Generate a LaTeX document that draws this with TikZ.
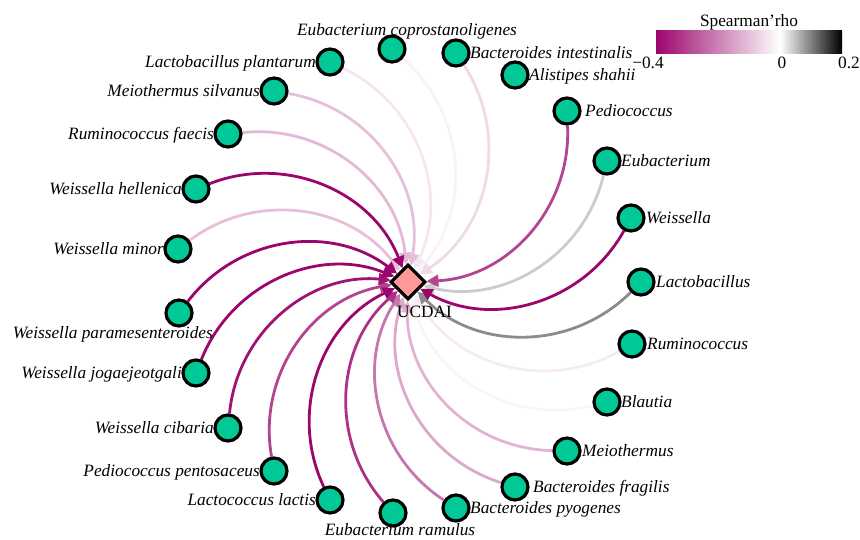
\documentclass[tikz,border=0pt]{standalone}
\usepackage{fontspec}
\setmainfont{Liberation Serif}
\usetikzlibrary{arrows.meta,shapes.geometric}
\definecolor{rhoneg}{RGB}{155,5,108}
\definecolor{nodegreen}{RGB}{0,201,151}
\definecolor{diafill}{RGB}{255,153,153}
\pgfdeclarehorizontalshading{rhobar}{100bp}{color(0bp)=(rhoneg); color(25bp)=(rhoneg); color(58.333bp)=(white); color(75bp)=(black); color(100bp)=(black)}
\pgfdeclarelayer{edgelayer}
\pgfsetlayers{edgelayer,main}
\begin{document}
\begin{tikzpicture}[x=1pt,y=-1pt,
  taxon/.style={circle,draw=black,line width=3.2pt,fill=nodegreen,minimum size=26pt,inner sep=0pt},
  hub/.style={diamond,draw=black,line width=3.2pt,fill=diafill,minimum width=35pt,minimum height=35pt,inner sep=0pt,shape aspect=1},
  lab/.style={font=\fontsize{17.3}{17.3}\selectfont\itshape,inner sep=0pt},
  lableft/.style={lab,anchor=base east},
  labright/.style={lab,anchor=base west},
  plainlab/.style={inner sep=0pt,font=\fontsize{17.3}{17.3}\selectfont},
  edgeline/.style={line width=2.8pt,-{Triangle[length=12pt,width=12pt]}},
]
\useasboundingbox (0,0) rectangle (860,539);

% hub
\node[hub] (u) at (408,282) {};
\node[plainlab,anchor=base west] (ulab) at (397,317) {UCDAI};

% taxa
\node[taxon] (n1) at (392,49) {};
\node[lab,anchor=base] (l1) at (407,35) {Eubacterium coprostanoligenes};
\node[taxon] (n2) at (330,62) {};
\node[lableft] (l2) at (316,67) {Lactobacillus plantarum};
\node[taxon] (n3) at (274,91) {};
\node[lableft] (l3) at (260,96) {Meiothermus silvanus};
\node[taxon] (n4) at (228,134) {};
\node[lableft] (l4) at (214,139) {Ruminococcus faecis};
\node[taxon] (n5) at (196,189) {};
\node[lableft] (l5) at (182,194) {Weissella hellenica};
\node[taxon] (n6) at (178,249) {};
\node[lableft] (l6) at (164,254) {Weissella minor};
\node[taxon] (n7) at (179,313) {};
\node[lableft] (l7) at (213,338) {Weissella paramesenteroides};
\node[taxon] (n8) at (196,373) {};
\node[lableft] (l8) at (182,378) {Weissella jogaejeotgali};
\node[taxon] (n9) at (228,428) {};
\node[lableft] (l9) at (214,433) {Weissella cibaria};
\node[taxon] (n10) at (274,471) {};
\node[lableft] (l10) at (260,476) {Pediococcus pentosaceus};
\node[taxon] (n11) at (330,500) {};
\node[lableft] (l11) at (316,505) {Lactococcus lactis};
\node[taxon] (n12) at (393,513) {};
\node[lab,anchor=base] (l12) at (400,535) {Eubacterium ramulus};
\node[taxon] (n13) at (456,508) {};
\node[labright] (l13) at (470,513) {Bacteroides pyogenes};
\node[taxon] (n14) at (515,487) {};
\node[labright] (l14) at (533,492) {Bacteroides fragilis};
\node[taxon] (n15) at (567,451) {};
\node[labright] (l15) at (582,456) {Meiothermus};
\node[taxon] (n16) at (607,402) {};
\node[labright] (l16) at (621,407) {Blautia};
\node[taxon] (n17) at (632,344) {};
\node[labright] (l17) at (647,349) {Ruminococcus};
\node[taxon] (n18) at (641,282) {};
\node[labright] (l18) at (656,287) {Lactobacillus};
\node[taxon] (n19) at (631,218) {};
\node[labright] (l19) at (646,223) {Weissella};
\node[taxon] (n20) at (607,161) {};
\node[labright] (l20) at (621,166) {Eubacterium};
\node[taxon] (n21) at (567,111) {};
\node[labright] (l21) at (585,116) {Pediococcus};
\node[taxon] (n22) at (515,75) {};
\node[labright] (l22) at (529,80) {Alistipes shahii};
\node[taxon] (n23) at (456,53) {};
\node[labright] (l23) at (470,58) {Bacteroides intestinalis};

% edges
\begin{pgfonlayer}{edgelayer}
\foreach \n/\c in {n16/rhoneg!4,n1/rhoneg!5,n17/rhoneg!8,n2/rhoneg!10,n23/rhoneg!15,
  n20/black!20,n3/rhoneg!25,n6/rhoneg!25,n4/rhoneg!28,n15/rhoneg!30,n14/rhoneg!35,
  n18/black!45,n13/rhoneg!55,n10/rhoneg!75,n21/rhoneg!75,n12/rhoneg!82,n9/rhoneg!95,
  n5/rhoneg,n7/rhoneg,n8/rhoneg,n11/rhoneg,n19/rhoneg}
  \draw[edgeline,draw=\c] (\n) to[bend left=45] (u);
\end{pgfonlayer}

% colour bar
\shade[shading=rhobar] (656,30) rectangle (842,53);
\node[plainlab,anchor=base] (cbt) at (749,26) {Spearman’rho};
\node[plainlab,anchor=base] (cb1) at (648,68) {−0.4};
\node[plainlab,anchor=base] (cb2) at (782,68) {0};
\node[plainlab,anchor=base] (cb3) at (849,68) {0.2};
\end{tikzpicture}
\end{document}
